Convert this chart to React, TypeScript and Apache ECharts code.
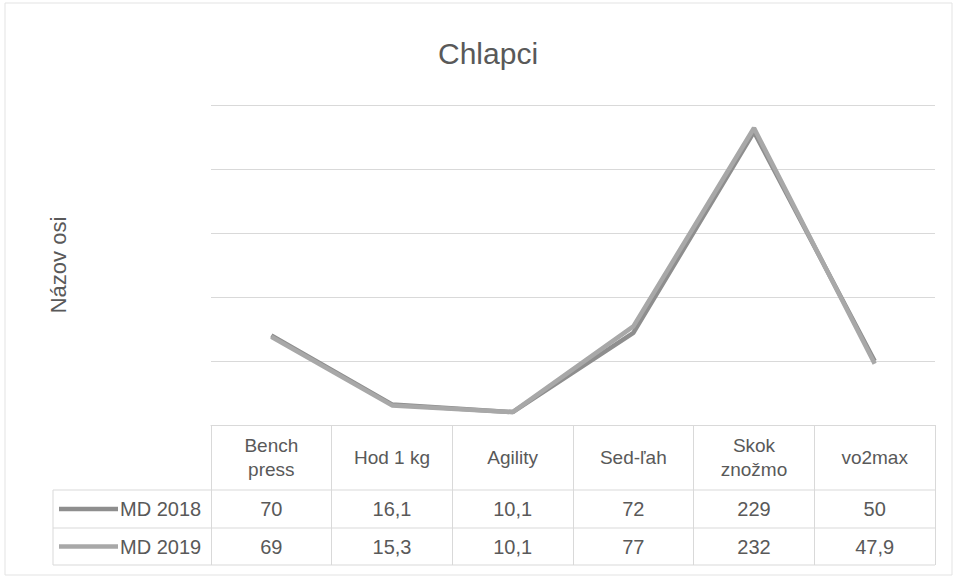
import React, { useEffect, useRef } from "react";
import * as echarts from "echarts";

const categories = ["Bench\npress", "Hod 1 kg", "Agility", "Sed-ľah", "Skok\nznožmo", "vo2max"];
const seriesNames = ["MD 2018", "MD 2019"];
const md2018 = [70, 16.1, 10.1, 72, 229, 50];
const md2019 = [69, 15.3, 10.1, 77, 232, 47.9];
const seriesColors = ["#8e8e8e", "#a8a8a8"];

const FONT = "'Liberation Sans', Arial, sans-serif";
const TEXT = "#595959";
const GRID_C = "#d9d9d9";

const fmt = (v: number) => String(v).replace(".", ",");

export default function App() {
  const ref = useRef<HTMLDivElement>(null);
  useEffect(() => {
    if (!ref.current) return;
    const chart = echarts.init(ref.current, null, { renderer: "svg" });
    const gridLeft = 211;
    const gridRight = 22;
    const gridTop = 105;
    const gridBottom = 153;
    const axisY = 578 - gridBottom;
    const row1Top = 490;
    const row2Top = 528;
    const tableBottom = 565;
    const tableLeft = 53;
    const tableRight = 957 - gridRight;

    chart.setOption({
      animation: false,
      backgroundColor: "#ffffff",
      textStyle: { fontFamily: FONT },
      title: {
        text: "Chlapci",
        left: 433,
        top: 33,
        textStyle: { fontFamily: FONT, fontSize: 30, fontWeight: "normal", color: TEXT },
      },
      grid: { left: gridLeft, right: gridRight, top: gridTop, bottom: gridBottom },
      xAxis: {
        type: "category",
        data: categories,
        boundaryGap: true,
        axisLine: { show: true, lineStyle: { color: GRID_C } },
        axisTick: { show: true, length: tableBottom - axisY, lineStyle: { color: GRID_C } },
        axisLabel: {
          margin: 32,
          verticalAlign: "middle",
          fontSize: 19,
          lineHeight: 24,
          color: TEXT,
          fontFamily: FONT,
        },
      },
      yAxis: {
        type: "value",
        min: 0,
        max: 250,
        interval: 50,
        name: "Názov osi",
        nameLocation: "middle",
        nameRotate: 90,
        nameGap: 142,
        nameTextStyle: { fontSize: 22, color: TEXT, fontFamily: FONT },
        axisLine: { show: false },
        axisTick: { show: false },
        axisLabel: { show: false },
        splitLine: { lineStyle: { color: GRID_C, width: 1 } },
      },
      series: [
        {
          name: seriesNames[0],
          type: "line",
          data: md2018,
          showSymbol: false,
          lineStyle: { color: seriesColors[0], width: 4.5 },
          itemStyle: { color: seriesColors[0] },
        },
        {
          name: seriesNames[1],
          type: "line",
          data: md2019,
          showSymbol: false,
          lineStyle: { color: seriesColors[1], width: 4.5 },
          itemStyle: { color: seriesColors[1] },
        },
      ],
    });

    const rows = [md2018, md2019];
    const rowTops = [row1Top, row2Top, tableBottom];
    const elements: any[] = [];
    elements.push({
      type: "rect",
      shape: { x: 5, y: 3, width: 947, height: 572 },
      style: { fill: "none", stroke: "#e3e3e3", lineWidth: 1 },
      silent: true,
    });
    rowTops.forEach((y) => {
      elements.push({
        type: "line",
        shape: { x1: tableLeft, y1: y, x2: tableRight, y2: y },
        style: { stroke: GRID_C, lineWidth: 1 },
        silent: true,
      });
    });
    elements.push({
      type: "line",
      shape: { x1: tableLeft, y1: row1Top, x2: tableLeft, y2: tableBottom },
      style: { stroke: GRID_C, lineWidth: 1 },
      silent: true,
    });
    rows.forEach((vals, r) => {
      const cy = (rowTops[r] + rowTops[r + 1]) / 2;
      elements.push({
        type: "line",
        shape: { x1: 59, y1: cy, x2: 118, y2: cy },
        style: { stroke: seriesColors[r], lineWidth: 4.5 },
        silent: true,
      });
      elements.push({
        type: "text",
        x: 120,
        y: cy,
        style: {
          text: seriesNames[r],
          fontSize: 20,
          fontFamily: FONT,
          fill: TEXT,
          align: "left",
          verticalAlign: "middle",
        },
        silent: true,
      });
      vals.forEach((v, i) => {
        const px = chart.convertToPixel({ xAxisIndex: 0 }, i) as number;
        elements.push({
          type: "text",
          x: px,
          y: cy,
          style: {
            text: fmt(v),
            fontSize: 20,
            fontFamily: FONT,
            fill: TEXT,
            align: "center",
            verticalAlign: "middle",
          },
          silent: true,
        });
      });
    });
    chart.setOption({ graphic: { elements } });

    return () => chart.dispose();
  }, []);
  return (
    <div
      ref={ref}
      style={{ position: "fixed", left: 0, top: 0, width: 957, height: 578 }}
    />
  );
}
